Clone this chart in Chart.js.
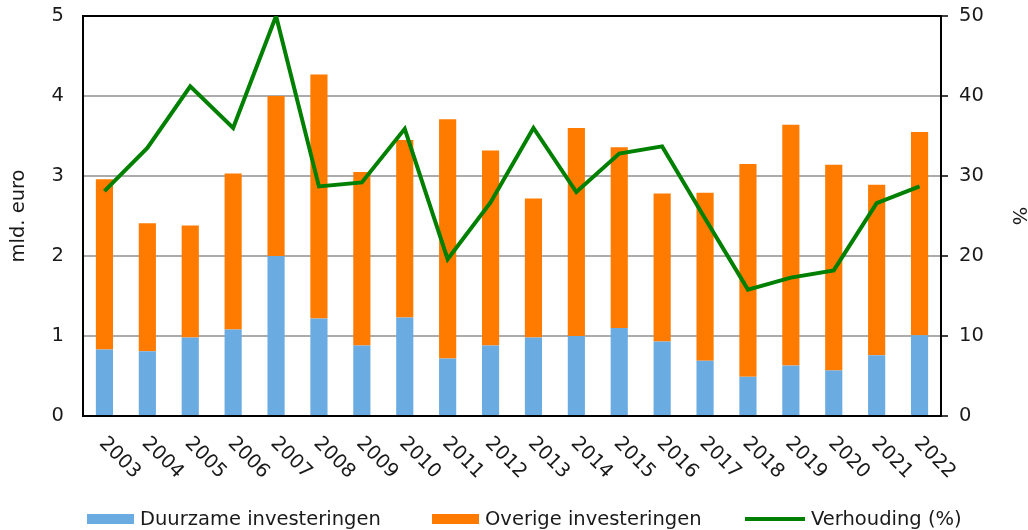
<!DOCTYPE html>
<html lang="nl">
<head>
<meta charset="utf-8">
<title>Duurzame en overige investeringen</title>
<script src="https://cdn.jsdelivr.net/npm/chart.js@4.4.1/dist/chart.umd.min.js"></script>
<style>
    html, body { margin: 0; padding: 0; background: #fff; }
    .wrap { position: relative; width: 1028px; height: 530px; }
    .legend { position: absolute; left: 0; top: 508px; width: 1028px; height: 21px; font: 19.5px "DejaVu Sans", Verdana, sans-serif; color: #1a1a1a; }
    .legend-item { position: absolute; top: 0; height: 21px; display: flex; align-items: center; white-space: nowrap; line-height: 21px; }
    .legend-swatch { display: inline-block; margin-right: 6px; }
</style>
</head>
<body>
<div class="wrap">
    <canvas id="chart"></canvas>
    <div class="legend" id="legend"></div>
</div>
<script>
(() => {
    'use strict';

    const years = ['2003', '2004', '2005', '2006', '2007', '2008', '2009', '2010', '2011', '2012',
        '2013', '2014', '2015', '2016', '2017', '2018', '2019', '2020', '2021', '2022'];
    // mld. euro
    const duurzame = [0.83, 0.81, 0.98, 1.08, 2.00, 1.22, 0.88, 1.23, 0.72, 0.88,
        0.98, 1.00, 1.10, 0.93, 0.69, 0.49, 0.63, 0.57, 0.76, 1.01];
    const overige = [2.13, 1.60, 1.40, 1.95, 2.00, 3.05, 2.17, 2.22, 2.99, 2.44,
        1.74, 2.60, 2.26, 1.85, 2.10, 2.66, 3.01, 2.57, 2.13, 2.54];
    // %
    const verhouding = [28.1, 33.5, 41.2, 36.0, 50.0, 28.7, 29.2, 35.9, 19.6, 26.7,
        36.0, 28.0, 32.8, 33.7, 24.7, 15.8, 17.3, 18.2, 26.6, 28.7];
    const leftTicks = [0, 1, 2, 3, 4, 5];
    const rightTicks = [0, 10, 20, 30, 40, 50];

    const blue = '#6aace2';
    const orange = '#ff7b00';
    const green = '#008000';
    const textColor = '#1a1a1a';
    const fontFamily = '"DejaVu Sans", Verdana, sans-serif';
    const fontSize = 19.5;

    const byId = (id) => document.getElementById(id);

    // x labels hang down-right from the tick, which Chart.js can't rotate that way itself
    const yearLabels = {
        id: 'yearLabels',
        afterDraw(chart) {
            const { ctx, scales: { x } } = chart;
            ctx.save();
            ctx.font = `${fontSize}px ${fontFamily}`;
            ctx.fillStyle = textColor;
            ctx.textAlign = 'left';
            ctx.textBaseline = 'alphabetic';
            years.forEach((year, index) => {
                ctx.save();
                ctx.translate(x.getPixelForTick(index) - 6, x.top + 28);
                ctx.rotate(Math.PI / 4);
                ctx.fillText(year, 0, 0);
                ctx.restore();
            });
            ctx.restore();
        },
    };

    const legendItems = [
        { text: 'Duurzame investeringen', color: blue, left: 87, width: 47, height: 10 },
        { text: 'Overige investeringen', color: orange, left: 432, width: 47, height: 10 },
        { text: 'Verhouding (%)', color: green, left: 745, width: 60, height: 4 },
    ];
    byId('legend').innerHTML = legendItems.map((item) => `
        <span class="legend-item" style="left:${item.left}px">
            <span class="legend-swatch" style="width:${item.width}px;height:${item.height}px;background:${item.color}"></span>${item.text}
        </span>`).join('');

    const tickFont = { family: fontFamily, size: fontSize };

    // fixed axis boxes; drop the label overhang so the plot top sits at the layout padding
    const fixWidth = (width) => (scale) => {
        scale.width = width;
        scale.paddingTop = 0;
        scale.paddingBottom = 0;
    };

    new Chart(byId('chart'), {
        data: {
            labels: years,
            datasets: [
                {
                    type: 'line',
                    label: 'Verhouding (%)',
                    data: verhouding,
                    yAxisID: 'y2',
                    borderColor: green,
                    backgroundColor: green,
                    borderWidth: 4,
                    pointRadius: 0,
                    tension: 0,
                    order: 0,
                },
                {
                    type: 'bar',
                    label: 'Duurzame investeringen',
                    data: duurzame,
                    yAxisID: 'y',
                    backgroundColor: blue,
                    barPercentage: 0.4,
                    categoryPercentage: 1,
                    order: 1,
                },
                {
                    type: 'bar',
                    label: 'Overige investeringen',
                    data: overige,
                    yAxisID: 'y',
                    backgroundColor: orange,
                    barPercentage: 0.4,
                    categoryPercentage: 1,
                    order: 1,
                },
            ],
        },
        options: {
            responsive: true,
            maintainAspectRatio: false,
            animation: false,
            layout: { padding: { top: 16, left: 0, right: 0, bottom: 0 } },
            plugins: {
                legend: { display: false },
                tooltip: { enabled: false },
            },
            scales: {
                x: {
                    stacked: true,
                    offset: true,
                    grid: { display: false },
                    border: { color: '#000', width: 2 },
                    ticks: { display: false },
                    afterFit: (scale) => { scale.height = 114; },
                },
                y: {
                    position: 'left',
                    stacked: true,
                    min: leftTicks[0],
                    max: leftTicks[leftTicks.length - 1],
                    afterBuildTicks: (scale) => { scale.ticks = leftTicks.map((value) => ({ value })); },
                    grid: {
                        drawTicks: false,
                        lineWidth: 2,
                        color: (ctx) => ctx.tick.value === 5 ? '#000' : '#ababab',
                    },
                    border: { color: '#000', width: 2 },
                    ticks: { color: textColor, font: tickFont, padding: 19 },
                    title: {
                        display: true,
                        text: 'mld. euro',
                        color: textColor,
                        font: { family: fontFamily, size: fontSize, lineHeight: 1 },
                        padding: { top: 9, bottom: 0 },
                    },
                    afterFit: fixWidth(83),
                },
                y2: {
                    position: 'right',
                    min: rightTicks[0],
                    max: rightTicks[rightTicks.length - 1],
                    afterBuildTicks: (scale) => { scale.ticks = rightTicks.map((value) => ({ value })); },
                    grid: {
                        drawOnChartArea: false,
                        drawTicks: true,
                        tickLength: 7,
                        lineWidth: 2,
                        color: '#404040',
                    },
                    border: { color: '#000', width: 2 },
                    ticks: { color: textColor, font: tickFont, padding: 11 },
                    title: {
                        display: true,
                        text: '%',
                        color: textColor,
                        font: { family: fontFamily, size: fontSize, lineHeight: 1 },
                        padding: { top: 0, bottom: 0 },
                    },
                    afterFit: fixWidth(87),
                },
            },
        },
        plugins: [yearLabels],
    });
})();
</script>
</body>
</html>
